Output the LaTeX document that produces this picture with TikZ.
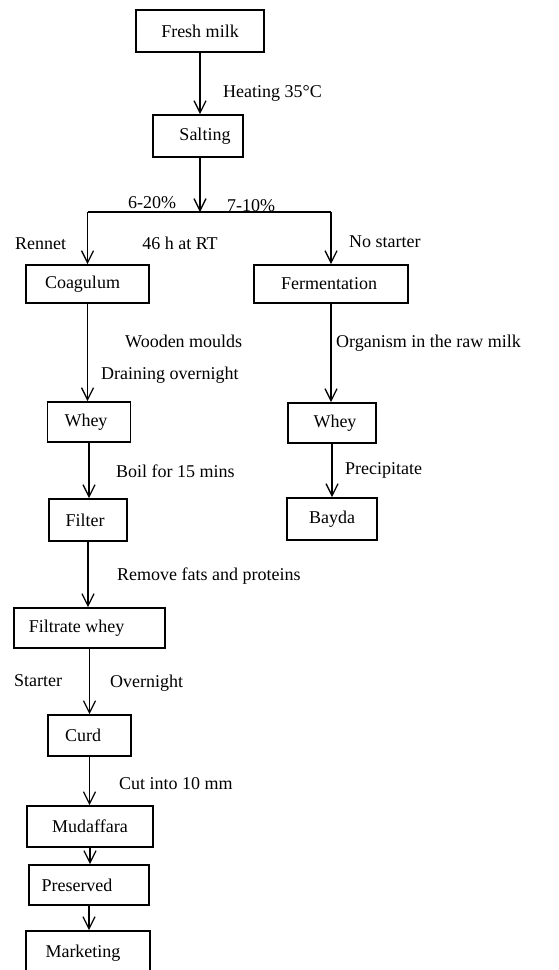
\documentclass[tikz,border=0pt]{standalone}
\usepackage{fontspec}
\setmainfont{Liberation Serif}
\usetikzlibrary{arrows.meta}
\begin{document}
\begin{tikzpicture}[x=1pt,y=-1pt,
  box/.style={draw, line width=1.7pt, inner sep=0pt, font=\fontsize{18}{20}\selectfont},
  lbl/.style={inner sep=0pt, anchor=base west, font=\fontsize{18}{20}\selectfont},
  clbl/.style={inner sep=0pt, anchor=base, font=\fontsize{18}{20}\selectfont},
  arr/.style={line width=1.3pt, -{Straight Barb[length=12pt,width=12pt,line width=1.3pt]}},
  ln/.style={line width=1.3pt}]
\useasboundingbox (0,0) rectangle (558,970);
% boxes
\node[box, minimum width=128pt, minimum height=42pt] (fm) at (200,31) {Fresh milk};
\node[box, minimum width=90pt, minimum height=42pt] (sal) at (198,136) {\hspace*{14pt}Salting};
\node[box, minimum width=123pt, minimum height=38pt] (coag) at (87.5,284) {Coagulum\hspace*{10pt}};
\node[box, minimum width=154pt, minimum height=38pt] (ferm) at (331,284) {Fermentation\hspace*{4pt}};
\node[box, minimum width=83pt, minimum height=40pt] (wheyL) at (89,422) {Whey\hspace*{6pt}};
\node[box, minimum width=88pt, minimum height=40pt] (wheyR) at (332,423) {\hspace*{6pt}Whey};
\node[box, minimum width=90pt, minimum height=42pt] (bayda) at (332,519) {Bayda};
\node[box, minimum width=78pt, minimum height=42pt] (filter) at (88,520) {Filter\hspace*{6pt}};
\node[box, minimum width=151pt, minimum height=40pt] (filt) at (89.5,628) {Filtrate whey\hspace*{26pt}};
\node[box, minimum width=83pt, minimum height=41pt] (curd) at (89.5,735.5) {Curd\hspace*{13pt}};
\node[box, minimum width=126pt, minimum height=41pt] (muda) at (90,826.5) {Mudaffara};
\node[box, minimum width=120pt, minimum height=40pt] (pres) at (89,885) {Preserved\hspace*{24pt}};
\node[box, minimum width=124pt, minimum height=44pt] (mark) at (88,953) {Marketing\hspace*{10pt}};
% connectors
\coordinate (j) at (200,212);
\coordinate (jl) at (coag.north |- j);
\coordinate (jr) at (ferm.north |- j);
\draw[arr] (fm.south) -- (fm.south |- sal.north);
\draw[arr] (sal.south -| j) -- (j);
\draw[ln] (jl) -- (jr);
\draw[arr] (jl) -- (coag.north);
\draw[arr] (jr) -- (ferm.north);
\draw[arr] (coag.south) -- (coag.south |- wheyL.north);
\draw[arr] (ferm.south) -- (ferm.south |- wheyR.north);
\draw[arr] (wheyR.south) -- (wheyR.south |- bayda.north);
\draw[arr] (wheyL.south) -- (wheyL.south |- filter.north);
\draw[arr] (filter.south) -- (filter.south |- filt.north);
\draw[arr] (filt.south) -- (filt.south |- curd.north);
\draw[arr] (curd.south) -- (curd.south |- muda.north);
\draw[arr] (muda.south) -- (muda.south |- pres.north);
\draw[arr] (pres.south) -- (pres.south |- mark.north);
% labels
\node[lbl] (t1) at (223,97.5) {Heating 35°C};
\node[clbl] (t2) at (152,208) {6-20\%};
\node[clbl] (t3) at (251,211) {7-10\%};
\node[lbl] (t4) at (15,249) {Rennet};
\node[clbl] (t5) at (180,249) {46 h at RT};
\node[lbl] (t6) at (349,247) {No starter};
\node[lbl] (t7) at (125,347) {Wooden moulds};
\node[lbl] (t8) at (101,379) {Draining overnight};
\node[lbl] (t9) at (336,347) {Organism in the raw milk};
\node[lbl] (t10) at (116,477) {Boil for 15 mins};
\node[lbl] (t11) at (345,474) {Precipitate};
\node[lbl] (t12) at (117,580) {Remove fats and proteins};
\node[lbl] (t13) at (14,686) {Starter};
\node[lbl] (t14) at (110,687) {Overnight};
\node[lbl] (t15) at (119,789) {Cut into 10 mm};
\end{tikzpicture}
\end{document}
